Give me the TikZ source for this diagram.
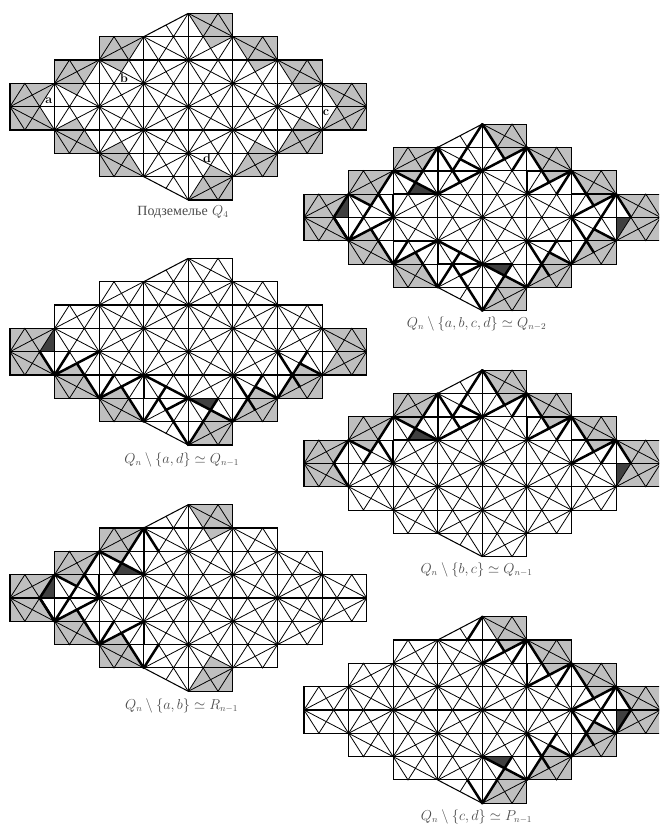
\documentclass[tikz,border=0pt]{standalone}
\usepackage{fontspec}
\newfontfamily\cyrfont{Liberation Serif}
\tikzset{
  panel/.style = {x=44.58pt, y=23.33pt},
  mesh/.style = {line width=0.8pt, black},
  grid line/.style = {line width=1.05pt, black},
  pale/.style = {fill=black!25},
  hole/.style = {fill=black!75},
  cut/.style = {line width=2.5pt, line cap=round},
  forced/.style = {line width=1.6pt},
  caption/.style = {font=\fontsize{13.5}{15}\selectfont, text=black!70},
  letter/.style = {font=\fontsize{12.5}{14}\selectfont\bfseries, inner sep=0pt}
}
% one cell of the lattice, row by row
\newcommand{\dungeon}{
  \foreach \j/\a/\b in {7/4/4, 6/2/5, 5/1/6, 4/0/7, 3/0/7, 2/1/6, 1/2/5, 0/4/4}
    \foreach \i in {\a,...,\b} {
      \ifodd\numexpr\i+\j\relax \def\ya{\j+1}\def\yb{\j}\else \def\ya{\j}\def\yb{\j+1}\fi
      \draw[grid line] (\i,\j) rectangle (\i+1,\j+1);
      \draw[mesh] (\i,\ya) -- (\i+1,\yb);
      \draw[mesh] (\i,\ya) -- (\i+1/3,\yb) -- (\i+2/3,\ya) -- (\i+1,\yb);
    }
  \draw[grid line] (3,7) -- (4,8);
  \draw[mesh] (3.5,7.5) -- (3+2/3,7) -- (4,8);
  \draw[grid line] (3,1) -- (4,0);
  \draw[mesh] (3.5,0.5) -- (3+2/3,1) -- (4,0);
}
% shaded boundary cells
\newcommand{\palenw}[1]{\foreach \i/\j in {#1}
  \fill[pale] (\i,\j+1) -- (\i+1,\j+1) -- (\i+2/3,\j) -- (\i+1/2,\j-1/2) -- (\i,\j) -- cycle;}
\newcommand{\palene}[1]{\foreach \i/\j in {#1}
  \fill[pale] (\i+1,\j+1) -- (\i,\j+1) -- (\i+1/3,\j) -- (\i+1/2,\j-1/2) -- (\i+1,\j) -- cycle;}
\newcommand{\palesw}[1]{\foreach \i/\j in {#1}
  \fill[pale] (\i,\j) -- (\i+1,\j) -- (\i+2/3,\j+1) -- (\i+1/2,\j+3/2) -- (\i,\j+1) -- cycle;}
\newcommand{\palese}[1]{\foreach \i/\j in {#1}
  \fill[pale] (\i+1,\j) -- (\i,\j) -- (\i+1/3,\j+1) -- (\i+1/2,\j+3/2) -- (\i+1,\j+1) -- cycle;}
% removed triangles
\newcommand{\holea}{\fill[hole] (1,5) -- (1,4) -- (2/3,4) -- cycle;}
\newcommand{\holeb}{\fill[hole] (2+1/3,5) -- (3,5) -- (2.5,5.5) -- cycle;}
\newcommand{\holec}{\fill[hole] (7,3) -- (7,4) -- (7+1/3,4) -- cycle;}
\newcommand{\holed}{\fill[hole] (4,2) -- (4+2/3,2) -- (4.5,1.5) -- cycle;}
% heavy edges, by corner of the dungeon
\newcommand{\cutnw}{
  \draw[cut] (2/3,4) -- (1,5) (2/3,4) -- (1,3) (1,5) -- (1.5,4.5) (1+1/3,4) -- (2,6)
    (1+2/3,5) -- (2,4) (2,6) -- (2.5,5.5) (2+1/3,5) -- (3,7) (2.5,5.5) -- (3,5) (3,7) -- (3+1/3,6);
  \draw[forced] (2/3,4) -- (2,4) (2,4) -- (2,5) (2,5) -- (3,5) (3,5) -- (3,7);
}
\newcommand{\cutne}{
  \draw[cut] (4,6) -- (5,7) (5,7) -- (4+2/3,6) (4+1/3,7) -- (4.5,6.5) (5,7) -- (5.5,5.5)
    (6,6) -- (5,5) (6,6) -- (5+2/3,5) (6,6) -- (6.5,4.5) (7,5) -- (6,4) (7,5) -- (6+2/3,4) (7,5) -- (7+1/3,4);
  \draw[forced] (4,6) -- (4,7) (5,5) -- (5,6) (5,6) -- (6,6) (6,5) -- (7,5) (6,4) -- (7+1/3,4);
}
\newcommand{\cutsw}{
  \draw[cut] (2/3,4) -- (1,3) (1,3) -- (1+1/3,4) (1,3) -- (2,4) (1.5,3.5) -- (2,2) (2,2) -- (2+1/3,3)
    (2,2) -- (3,3) (2.5,2.5) -- (3,1) (3,1) -- (3+1/3,2);
  \draw[forced] (2/3,4) -- (2,4) (2,3) -- (3,3) (3,2) -- (3,3);
}
\newcommand{\cutse}{
  \draw[cut] (4,0) -- (4+2/3,2) (4,2) -- (5,1) (5,1) -- (5+2/3,3) (5,3) -- (5.5,1.5) (5.5,2.5) -- (6,2)
    (6,2) -- (6+2/3,4) (6,4) -- (6.5,2.5) (6.5,3.5) -- (7,3);
  \draw[forced] (4,1) -- (4,2) (4,2) -- (4+2/3,2) (5,3) -- (6,3) (6,3) -- (6,4) (6,4) -- (7,4);
}
% what only the top or only the bottom panels join in the middle
\newcommand{\cuttop}{
  \draw[cut] (3+1/3,6) -- (3.5,5.5) (3,5) -- (4,6) (3+1/3,6) -- (4,8) (4,6) -- (3.5,6.5) (4,8) -- (4+1/3,7);
  \draw[forced] (2,6) -- (4,6) (3,7) -- (4,7);
}
\newcommand{\cutbottom}{
  \draw[cut] (3+1/3,2) -- (3.5,2.5) (3.5,1.5) -- (4,2) (3+1/3,2) -- (4,0) (3,3) -- (4,2);
  \draw[forced] (3,2) -- (4,2);
}
\begin{document}
\begin{tikzpicture}
  \useasboundingbox (0pt,0pt) rectangle (659pt,825pt);
  \clip (0pt,0pt) rectangle (659pt,825pt);
  % Q4
  \begin{scope}[panel, shift={(10pt,625pt)}]
    \palenw{0/4,1/5,2/6} \palene{4/7,5/6,6/5,7/4} \palesw{0/3,1/2,2/1} \palese{4/0,5/1,6/2,7/3}
    \dungeon
    \node[letter] (a) at (0.87,4.27) {a};
    \node[letter] (b) at (2.56,5.23) {b};
    \node[letter] (c) at (7.09,3.75) {c};
    \node[letter] (d) at (4.42,1.77) {d};
    \node[caption] (q4) at (3.88,-0.52) {{\cyrfont\fontsize{14}{15}\selectfont Подземелье} $Q_4$};
  \end{scope}
  % a, b, c, d
  \begin{scope}[panel, shift={(304pt,514.3pt)}]
    \palenw{0/4,1/5,2/6} \palene{4/7,5/6,6/5,7/4} \palesw{0/3,1/2,2/1} \palese{4/0,5/1,6/2,7/3}
    \holea \holeb \holec \holed
    \dungeon
    \cutnw \cutne \cutsw \cutse \cuttop \cutbottom
    \node[caption] (abcd) at (3.87,-0.57) {$Q_n\setminus\{a,b,c,d\}\simeq Q_{n-2}$};
  \end{scope}
  % a, d
  \begin{scope}[panel, shift={(10pt,380pt)}]
    \palenw{0/4} \palene{7/4} \palesw{0/3,1/2,2/1} \palese{4/0,5/1,6/2,7/3}
    \holea \holed
    \dungeon
    \cutsw \cutse \cutbottom
    \node[caption] (ad) at (3.85,-0.64) {$Q_n\setminus\{a,d\}\simeq Q_{n-1}$};
  \end{scope}
  % b, c
  \begin{scope}[panel, shift={(304pt,268.3pt)}]
    \palenw{0/4,1/5,2/6} \palene{4/7,5/6,6/5,7/4} \palesw{0/3} \palese{7/3}
    \holeb \holec
    \dungeon
    \cutnw \cutne \cuttop
    \node[caption] (bc) at (3.87,-0.57) {$Q_n\setminus\{b,c\}\simeq Q_{n-1}$};
  \end{scope}
  % a, b
  \begin{scope}[panel, shift={(10pt,133.7pt)}]
    \palenw{0/4,1/5,2/6} \palene{4/7} \palesw{0/3,1/2,2/1} \palese{4/0}
    \holea \holeb
    \dungeon
    \cutnw \cutsw
    \node[caption] (ab) at (3.85,-0.63) {$Q_n\setminus\{a,b\}\simeq R_{n-1}$};
  \end{scope}
  % c, d
  \begin{scope}[panel, shift={(304pt,21.7pt)}]
    \palene{4/7,5/6,6/5,7/4} \palese{4/0,5/1,6/2,7/3}
    \holec \holed
    \dungeon
    \cutne \cutse
    \draw[cut] (4,8) -- (3+2/3,7) (7+1/3,4) -- (7,3) (4,0) -- (3+2/3,1);
    \node[caption] (cd) at (3.87,-0.59) {$Q_n\setminus\{c,d\}\simeq P_{n-1}$};
  \end{scope}
\end{tikzpicture}
\end{document}
